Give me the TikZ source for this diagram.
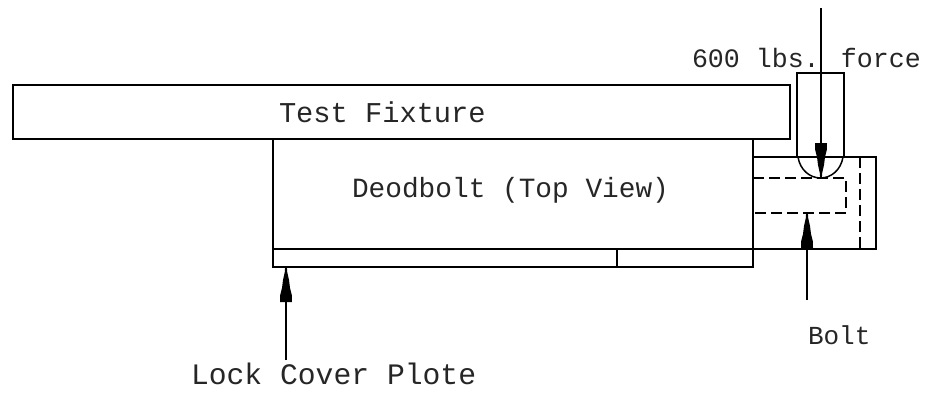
\documentclass[tikz,border=0pt]{standalone}
\usepackage{fontspec}
\setmainfont{Liberation Mono}
\tikzset{
  part/.style={draw=black,line width=1.5pt,line join=miter},
  hidden/.style={draw=black,line width=1.5pt,dash pattern=on 11pt off 5pt},
  leader/.style={draw=black,line width=1.5pt},
  lbl/.style={anchor=base west,inner sep=0pt,outer sep=0pt,text=black!85},
  lblsize/.style={font=\fontsize{#1}{#1}\selectfont}
}
% solid stepped arrowhead: #1 tip coordinate, #2 = 1 points up, -1 points down
\newcommand{\steppedhead}[2]{%
  \begin{scope}[shift={(#1)},yscale=#2]
  \fill[black] (-.9,0) -- (-1.2,5) -- (-3,13) -- (-4,21) -- (-5.8,28) -- (-6,35)
     -- (6,35) -- (5.8,28) -- (4,21) -- (3,13) -- (1.2,5) -- (.9,0) -- cycle;
  \end{scope}}
\begin{document}
\begin{tikzpicture}[x=1pt,y=-1pt]
\useasboundingbox[fill=white] (0,0) rectangle (927,394);
% fixture and deadbolt
\draw[part] (13,85) rectangle (790,139);
\draw[part] (273,139) rectangle (753,267);
\draw[part] (273,249) -- (753,249);
\draw[part] (617,249) -- (617,267);
% bolt
\draw[part] (753,157) -- (876,157) -- (876,249) -- (753,249);
\draw[hidden] (860,157) -- (860,249);
\draw[hidden] (753,178) -- (846,178) -- (846,213) -- (753,213);
% pin
\draw[part] (797,157) -- (797,73) -- (844,73) -- (844,157);
\draw[part] (798,157) .. controls (800,170) and (810,178) .. (820.5,178) .. controls (831,178) and (841,170) .. (843,157);
% labels
\node[lbl,lblsize=28.7] (fixture) at (279,122) {Test Fixture};
\node[lbl,lblsize=27.8] (deadbolt) at (352,197) {Deodbolt (Top View)};
\node[lbl,lblsize=26.6] (force) at (692,67) {600 lbs. force};
\node[lbl,lblsize=26] (bolt) at (808,344) {Bolt};
\node[lbl,lblsize=29.7] (lock) at (191,384) {Lock Cover Plote};
% connectors
\coordinate (forcestart) at (821,8);
\coordinate (forcetip) at (821,178);
\coordinate (boltstart) at (807,300);
\coordinate (bolttip) at (807,213);
\coordinate (lockstart) at (286,360);
\coordinate (locktip) at (286,267);
\draw[leader] (forcestart) -- (forcetip);
\draw[leader] (boltstart) -- (bolttip);
\draw[leader] (lockstart) -- (locktip);
\steppedhead{forcetip}{-1}
\steppedhead{bolttip}{1}
\steppedhead{locktip}{1}
\end{tikzpicture}
\end{document}
